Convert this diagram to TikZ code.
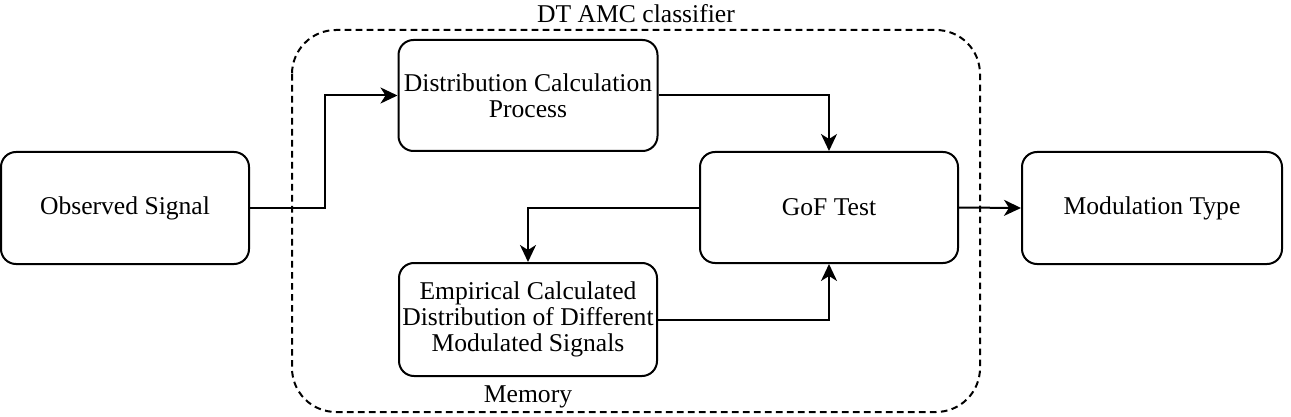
\documentclass[tikz,border=0pt]{standalone}
\usepackage{fontspec}
\setmainfont{Liberation Serif}
\usetikzlibrary{arrows.meta}
\begin{document}
\begin{tikzpicture}[x=0.5pt,y=-0.5pt,
  box/.style={draw, line width=1pt, rounded corners=7.5pt, align=center, inner sep=1pt,
    font=\fontsize{12.8}{13}\selectfont},
  arr/.style={line width=1pt, -{Stealth[length=8.5pt,width=8pt,inset=2.5pt]}},
  lbl/.style={font=\fontsize{12.8}{13}\selectfont, inner sep=0pt},
  grp/.style={draw, line width=1pt, dash pattern=on 3.3pt off 2.2pt, rounded corners=22pt}]
\useasboundingbox (0,0) rectangle (1291,417);
% group
\draw[grp] (292,30) rectangle (980,412);
\node[lbl] (title) at (636,14) {DT AMC classifier};
\node[lbl] (mem) at (528,397) {Memory};
% boxes
\node[box, minimum width=124pt, minimum height=56pt] (obs) at (125,208) {Observed Signal};
\node[box, minimum width=129.5pt, minimum height=55.5pt] (dist) at (528,95.5) {Distribution Calculation\\Process};
\node[box, minimum width=129pt, minimum height=55.5pt] (gof) at (829,207.5) {GoF Test};
\node[box, minimum width=129pt, minimum height=56.5pt] (emp) at (528,319.5) {Empirical Calculated\\Distribution of Different\\Modulated Signals};
\node[box, minimum width=130pt, minimum height=56pt] (mod) at (1152,208) {Modulation Type};
% connectors
\draw[arr] (obs.east) -- ++(75,0) |- (dist.west);
\draw[arr] (dist.east) -| (gof.north);
\draw[arr] (gof.west) -| (emp.north);
\draw[arr] (emp.east) -| (gof.south);
\draw[arr] (gof.east) -- (mod.west);
\end{tikzpicture}
\end{document}
